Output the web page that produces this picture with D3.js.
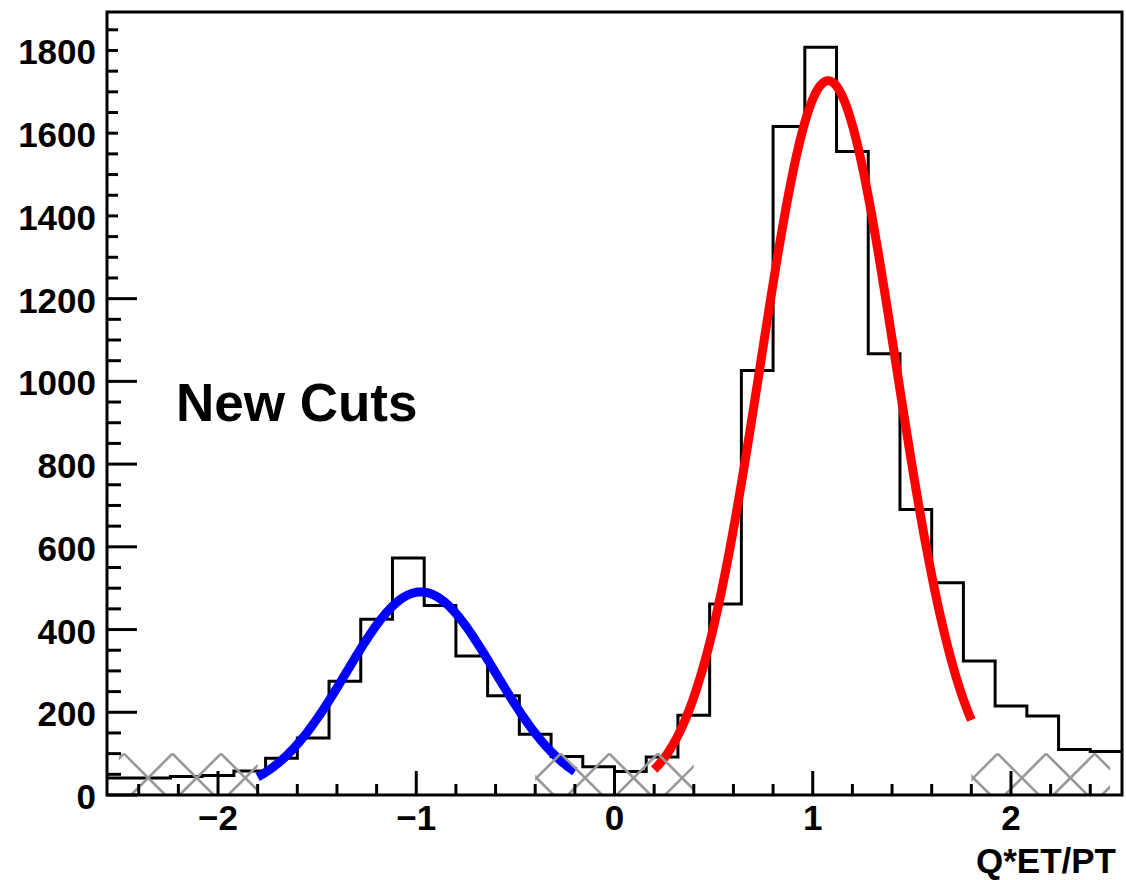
<!DOCTYPE html>
<html><head><meta charset="utf-8">
<script src="https://cdn.jsdelivr.net/npm/d3@7"></script>
<style>
body{margin:0;background:#fff}
text{font-family:"Liberation Sans",Arial,Helvetica,sans-serif;font-weight:bold;fill:#000}
</style>
</head><body>
<svg id="c" width="1126" height="880"></svg>
<script>
// ---- data ----
const binLow = -2.56, binWidth = 0.16;
const counts = [41, 41, 45, 47, 58, 89, 138, 275, 425, 573, 458, 336, 240, 147, 93, 68,
                57, 92, 193, 462, 1026, 1616, 1808, 1556, 1067, 690, 513, 324, 215, 191, 110, 105];
const blueFitParams = [491, -0.977, 0.374];   // amplitude, mean, sigma
const blueFitRange = [-1.8, -0.2];
const redFitParams = [1727, 1.078, 0.34];
const redFitRange = [0.2, 1.8];
const hatchRanges = [[-2.5, -1.8], [-0.4, 0.4], [1.8, 2.5]];
const hatchTop = 100;
const yMajorTicks = [0, 200, 400, 600, 800, 1000, 1200, 1400, 1600, 1800];
const xMajorTicks = [-2, -1, 0, 1, 2];
const xTickLabels = ["\u22122", "\u22121", "0", "1", "2"];
const xTitle = "Q*ET/PT";
const annotation = "New Cuts";

// ---- layout ----
const svg = d3.select("#c");
const L = 107, R = 1122, T = 12, B = 795;
const x = d3.scaleLinear().domain([-2.56, 2.56]).range([L, R]);
const y = d3.scaleLinear().domain([0, 1893]).range([B, T]);

svg.append("defs").append("clipPath").attr("id", "frame")
  .append("rect").attr("x", L).attr("y", T).attr("width", R - L).attr("height", B - T);

const plot = svg.append("g").attr("clip-path", "url(#frame)");

// histogram outline
const pts = counts.map((c, i) => [binLow + i * binWidth, c]);
pts.push([binLow + counts.length * binWidth, counts[counts.length - 1]]);
plot.append("path")
  .attr("d", d3.line().x(d => x(d[0])).y(d => y(d[1])).curve(d3.curveStepAfter)(pts))
  .attr("fill", "none").attr("stroke", "#000").attr("stroke-width", 3);

// gaussian fits
function gaussPath(p, range) {
  const n = 200, arr = [];
  for (let i = 0; i <= n; i++) {
    const xv = range[0] + (range[1] - range[0]) * i / n;
    arr.push([xv, p[0] * Math.exp(-0.5 * Math.pow((xv - p[1]) / p[2], 2))]);
  }
  return d3.line().x(d => x(d[0])).y(d => y(d[1])).curve(d3.curveLinear)(arr);
}
plot.append("path").attr("d", gaussPath(blueFitParams, blueFitRange))
  .attr("fill", "none").attr("stroke", "#0000ff").attr("stroke-width", 9);
plot.append("path").attr("d", gaussPath(redFitParams, redFitRange))
  .attr("fill", "none").attr("stroke", "#ff0000").attr("stroke-width", 9);

// cross-hatched excluded regions
const hatchSpacing = 48.54, hatchPhase = -5.2;
const defs = svg.select("defs");
hatchRanges.forEach((r, j) => {
  const x0 = x(r[0]), x1 = x(r[1]), yt = y(hatchTop), yb = y(0), H = yb - yt;
  defs.append("clipPath").attr("id", "hb" + j).append("rect")
    .attr("x", x0).attr("y", yt - 2).attr("width", x1 - x0).attr("height", H + 2);
  const g = plot.append("g").attr("clip-path", "url(#hb" + j + ")");
  const origin = x(0) + hatchPhase;
  const kMin = Math.floor((x0 - H - origin) / hatchSpacing) - 1;
  const kMax = Math.ceil((x1 + H - origin) / hatchSpacing) + 1;
  for (let k = kMin; k <= kMax; k++) {
    const p = origin + k * hatchSpacing;
    g.append("line").attr("x1", p).attr("y1", yt).attr("x2", p + H).attr("y2", yb)
      .attr("stroke", "#999").attr("stroke-width", 2.6);
    g.append("line").attr("x1", p).attr("y1", yt).attr("x2", p - H).attr("y2", yb)
      .attr("stroke", "#999").attr("stroke-width", 2.6);
  }
});

// axes ticks
const axg = svg.append("g").attr("stroke", "#000").attr("stroke-width", 3);
d3.range(0, 1851, 50).forEach(v => {
  const major = v % 200 === 0;
  const len = v > 1225 ? 11 : (major ? 30 : 14);
  axg.append("line").attr("x1", L).attr("x2", L + len).attr("y1", y(v)).attr("y2", y(v));
});
d3.range(-24, 25, 2).forEach(t => {
  const v = t / 10;
  const major = t % 10 === 0;
  const len = major ? 24 : 11;
  axg.append("line").attr("x1", x(v)).attr("x2", x(v)).attr("y1", B).attr("y2", B - len);
});

// frame
svg.append("rect").attr("x", L).attr("y", T).attr("width", R - L).attr("height", B - T)
  .attr("fill", "none").attr("stroke", "#000").attr("stroke-width", 3);

// labels
svg.selectAll("text.yl").data(yMajorTicks).join("text").attr("class", "yl")
  .attr("x", 96).attr("y", d => y(d) + 14).attr("text-anchor", "end")
  .style("font-size", "35px").text(d => d);
svg.selectAll("text.xl").data(xMajorTicks).join("text").attr("class", "xl")
  .attr("x", d => x(d)).attr("y", B + 35).attr("text-anchor", "middle")
  .style("font-size", "35px").text((d, i) => xTickLabels[i]);
svg.append("text").attr("x", 1116).attr("y", 873).attr("text-anchor", "end")
  .style("font-size", "35px").text(xTitle);
svg.append("text").attr("x", 176).attr("y", 421)
  .style("font-size", "53px").text(annotation);
</script>
</body></html>
